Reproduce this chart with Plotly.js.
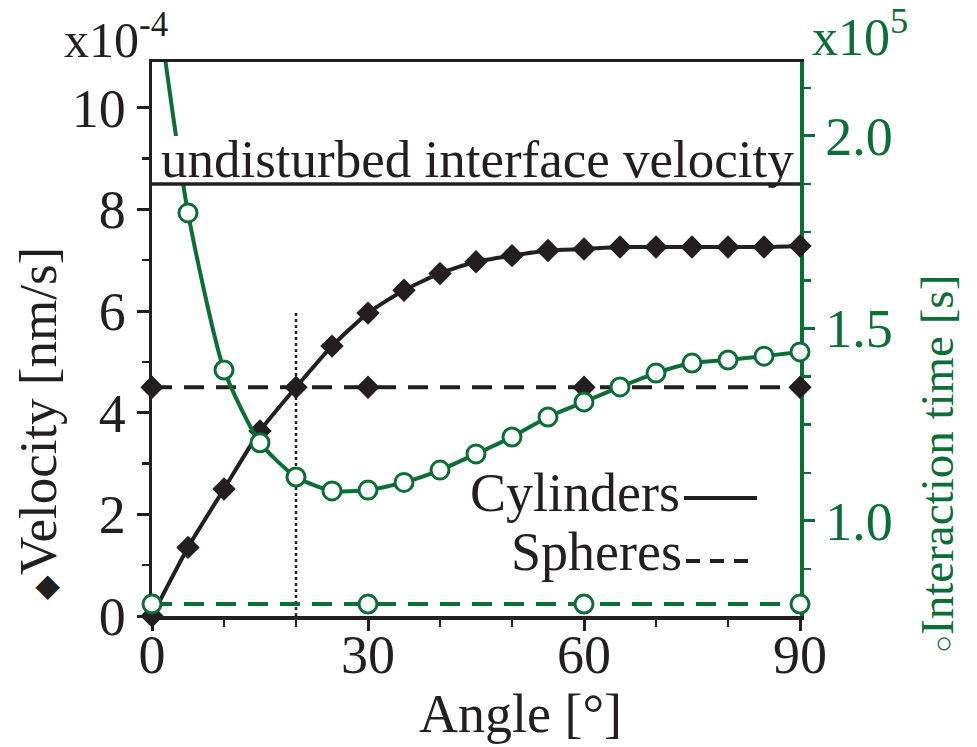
<!DOCTYPE html>
<html><head><meta charset="utf-8">
<script src="https://cdn.plot.ly/plotly-3.0.1.min.js"></script>
<style>html,body{margin:0;padding:0;background:#fff}</style>
</head><body><div id="chart" style="width:977px;height:747px"></div>
<script>
// ---- data ----
const angles = [0,5,10,15,20,25,30,35,40,45,50,55,60,65,70,75,80,85,90];
const cylVelocity = [0,1.35,2.5,3.64,4.5,5.31,5.96,6.41,6.74,6.97,7.09,7.19,7.22,7.26,7.26,7.26,7.26,7.26,7.28]; // x1e-4 nm/s
const sphAngles = [0,30,60,90];
const sphVelocity = [4.5,4.5,4.5,4.5];
const cylTime = [2.45,1.80,1.392,1.203,1.114,1.078,1.08,1.10,1.132,1.174,1.218,1.27,1.309,1.348,1.384,1.41,1.418,1.428,1.439]; // x1e5 s
const sphTime = [0.784,0.784,0.784,0.784];
const undisturbedVelocity = 8.5;
const criticalAngle = 20;
const criticalTop = 6;
const leftTicks = [0,2,4,6,8,10];
const rightTicks = [1.0,1.5,2.0];
const xTicks = [0,30,60,90];

const BLACK = '#231f20';
const GREEN = '#0b6e37';
const FONT = 'Liberation Serif, Times New Roman, serif';

const traces = [
  {x: angles, y: cylVelocity, mode: 'lines+markers', line: {color: BLACK, width: 4, shape: 'spline', smoothing: 0.6},
   marker: {symbol: 'diamond', size: 18, color: BLACK}, cliponaxis: false, xaxis: 'x', yaxis: 'y'},
  {x: sphAngles, y: sphVelocity, mode: 'lines+markers', line: {color: BLACK, width: 4, dash: '20px,12px'},
   marker: {symbol: 'diamond', size: 18, color: BLACK}, cliponaxis: false, xaxis: 'x', yaxis: 'y'},
  {x: angles, y: cylTime, mode: 'lines', line: {color: GREEN, width: 4, shape: 'spline', smoothing: 0.6},
   xaxis: 'x', yaxis: 'y2'},
  {x: angles.slice(1), y: cylTime.slice(1), mode: 'markers',
   marker: {symbol: 'circle', size: 18, color: '#ffffff', line: {color: GREEN, width: 3}}, cliponaxis: false, xaxis: 'x', yaxis: 'y2'},
  {x: sphAngles, y: sphTime, mode: 'lines+markers', line: {color: GREEN, width: 4, dash: '20px,12px'},
   marker: {symbol: 'circle', size: 18, color: '#ffffff', line: {color: GREEN, width: 3}}, cliponaxis: false, xaxis: 'x', yaxis: 'y2'}
];

const W = 648, H = 554; // plot area size in px
const px = X => (X - 152) / W;
const py = Y => (616 - Y) / H;

const layout = {
  width: 977, height: 747,
  margin: {l: 152, r: 177, t: 62, b: 131, pad: 0},
  paper_bgcolor: '#fff', plot_bgcolor: '#fff',
  showlegend: false,
  font: {family: FONT, color: BLACK, size: 52},
  xaxis: {
    range: [0, 90], tickvals: xTicks, ticktext: xTicks.map(String),
    showline: true, linecolor: BLACK, linewidth: 3.5, mirror: true,
    ticks: 'outside', ticklen: 11, tickwidth: 3, tickcolor: BLACK,
    minor: {ticks: 'outside', dtick: 10, ticklen: 7, tickwidth: 2.5, tickcolor: BLACK},
    showgrid: false, zeroline: false, layer: 'below traces', ticklabelstandoff: -22,
    tickfont: {size: 54, color: BLACK, family: FONT}
  },
  yaxis: {
    range: [0, 10.9], tickvals: leftTicks, ticktext: leftTicks.map(String),
    showline: true, linecolor: BLACK, linewidth: 3.5,
    ticks: 'outside', ticklen: 12, tickwidth: 3, tickcolor: BLACK,
    minor: {ticks: 'outside', dtick: 1, ticklen: 7, tickwidth: 2.5, tickcolor: BLACK},
    showgrid: false, zeroline: false, layer: 'below traces',
    tickfont: {size: 54, color: BLACK, family: FONT}
  },
  yaxis2: {
    overlaying: 'y', side: 'right', range: [0.753, 2.192],
    tickvals: rightTicks, ticktext: rightTicks.map(v => v.toFixed(1)),
    showline: true, linecolor: GREEN, linewidth: 3.5,
    ticks: 'outside', ticklen: 11, tickwidth: 3, tickcolor: GREEN,
    minor: {ticks: 'outside', dtick: 0.125, ticklen: 7, tickwidth: 2.5, tickcolor: GREEN},
    showgrid: false, zeroline: false, layer: 'below traces',
    tickfont: {size: 54, color: GREEN, family: FONT}
  },
  shapes: [
    {type: 'rect', xref: 'paper', yref: 'paper', x0: px(158), x1: px(796), y0: py(183), y1: py(136),
     fillcolor: '#fff', line: {width: 0}, layer: 'above'},
    {type: 'line', xref: 'paper', yref: 'y', x0: 0, x1: 1, y0: undisturbedVelocity, y1: undisturbedVelocity,
     line: {color: BLACK, width: 3.5}, layer: 'above'},
    {type: 'line', xref: 'x', yref: 'y', x0: criticalAngle, x1: criticalAngle, y0: 0, y1: criticalTop,
     line: {color: BLACK, width: 2.5, dash: 'dot'}, layer: 'below'},
    {type: 'line', xref: 'paper', yref: 'paper', x0: px(684), x1: px(757), y0: py(498), y1: py(498),
     line: {color: BLACK, width: 4}},
    {type: 'line', xref: 'paper', yref: 'paper', x0: px(686), x1: px(757), y0: py(561), y1: py(561),
     line: {color: BLACK, width: 4, dash: '14px,10px'}}
  ],
  annotations: [
    {text: 'undisturbed interface velocity', xref: 'paper', yref: 'paper', x: px(477), y: py(159),
     xanchor: 'center', yanchor: 'middle', showarrow: false, font: {size: 53, color: BLACK, family: FONT}},
    {text: 'Cylinders', xref: 'paper', yref: 'paper', x: px(682), y: py(493),
     xanchor: 'right', yanchor: 'middle', showarrow: false, font: {size: 54, color: BLACK, family: FONT}},
    {text: 'Spheres', xref: 'paper', yref: 'paper', x: px(684), y: py(552),
     xanchor: 'right', yanchor: 'middle', showarrow: false, font: {size: 54, color: BLACK, family: FONT}},
    {text: 'x10<sup>-4</sup>', xref: 'paper', yref: 'paper', x: px(116), y: py(36),
     xanchor: 'center', yanchor: 'middle', showarrow: false, font: {size: 50, color: BLACK, family: FONT}},
    {text: 'x10<sup>5</sup>', xref: 'paper', yref: 'paper', x: px(860), y: py(34),
     xanchor: 'center', yanchor: 'middle', showarrow: false, font: {size: 52, color: GREEN, family: FONT}},
    {text: 'Angle [°]', xref: 'paper', yref: 'paper', x: px(520), y: py(714),
     xanchor: 'center', yanchor: 'middle', showarrow: false, font: {size: 54, color: BLACK, family: FONT}},
    {text: '<span style="font-size:32px">◆</span>Velocity [nm/s]', xref: 'paper', yref: 'paper', x: px(38), y: py(424),
     xanchor: 'center', yanchor: 'middle', textangle: -90, showarrow: false, font: {size: 53, color: BLACK, family: FONT}},
    {text: '<span style="font-size:30px">○</span>Interaction time [s]', xref: 'paper', yref: 'paper', x: px(937), y: py(464),
     xanchor: 'center', yanchor: 'middle', textangle: -90, showarrow: false, font: {size: 47, color: GREEN, family: FONT}}
  ]
};

Plotly.newPlot('chart', traces, layout, {displayModeBar: false, staticPlot: true});
</script></body></html>
